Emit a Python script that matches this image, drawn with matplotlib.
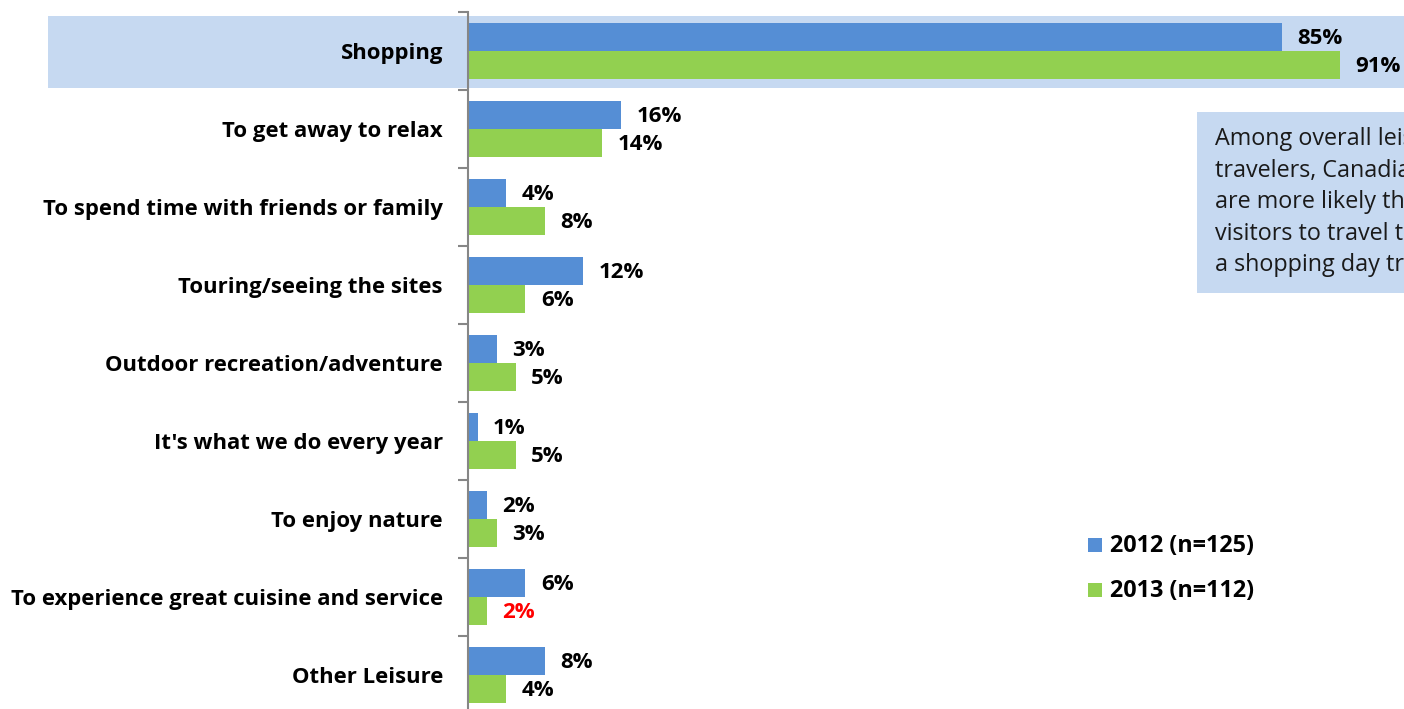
import matplotlib.pyplot as plt
from matplotlib.patches import Rectangle
from matplotlib.transforms import blended_transform_factory

categories = ["Shopping", "To get away to relax", "To spend time with friends or family",
              "Touring/seeing the sites", "Outdoor recreation/adventure",
              "It's what we do every year", "To enjoy nature",
              "To experience great cuisine and service", "Other Leisure"]
vals_2012 = [85, 16, 4, 12, 3, 1, 2, 6, 8]
vals_2013 = [91, 14, 8, 6, 5, 5, 3, 2, 4]
series_names = ["2012 (n=125)", "2013 (n=112)"]
note = "Among overall leisure\ntravelers, Canadians\nare more likely than\nvisitors to travel to\na shopping day trip"

BLUE = "#558ED5"
GREEN = "#92D050"
PALE = "#C6D9F1"
FONT = ["Open Sans", "DejaVu Sans"]

W, H = 1404, 709
fig = plt.figure(figsize=(W / 100, H / 100), dpi=100)
# axes: x from 468px to right edge, y from 12px (top) to 714px (slightly below bottom)
ax = fig.add_axes([468 / W, (H - 714) / H, (W - 468) / W, (714 - 12) / H])

ys = list(range(len(categories)))
h = 0.36
ax.barh([y - h / 2 for y in ys], vals_2012, height=h, color=BLUE, zorder=3, label=series_names[0])
ax.barh([y + h / 2 for y in ys], vals_2013, height=h, color=GREEN, zorder=3, label=series_names[1])

ax.set_xlim(0, (W - 468) / 9.58)
ax.set_ylim(len(categories) - 0.5, -0.5)

for y, v in zip(ys, vals_2012):
    ax.text(v + 1.6, y - h / 2 + 0.02, f"{v}%", va="center", ha="left", fontsize=16,
            fontweight="bold", family=FONT, zorder=4)
for i, (y, v) in enumerate(zip(ys, vals_2013)):
    col = "#FF0000" if i == 7 else "black"
    ax.text(v + 1.6, y + h / 2 + 0.02, f"{v}%", va="center", ha="left", fontsize=16,
            fontweight="bold", family=FONT, color=col, zorder=4)

# highlight band behind Shopping
tr = blended_transform_factory(fig.transFigure, ax.transData)
ax.add_patch(Rectangle((48 / W, -0.45), 1.0, 0.92, transform=tr, facecolor=PALE,
                       edgecolor="none", clip_on=False, zorder=0))

ax.set_yticks(ys)
ax.set_yticklabels(categories, fontsize=15.9, fontweight="bold", family=FONT)
ax.set_yticks([y - 0.5 for y in ys] + [len(ys) - 0.5], minor=True)
ax.tick_params(axis="y", which="major", length=0, pad=18)
ax.tick_params(axis="y", which="minor", length=7, color="#868686", width=1.5)
ax.set_xticks([])
for s in ["top", "right", "bottom"]:
    ax.spines[s].set_visible(False)
ax.spines["left"].set_color("#868686")
ax.spines["left"].set_linewidth(1.5)
ax.spines["left"].set_zorder(5)

# note box
fig.patches.append(Rectangle((1197 / W, 1 - 293 / H), 1.0, (293 - 112) / H,
                             transform=fig.transFigure, facecolor=PALE, edgecolor="none"))
fig.text(1215 / W, 1 - 127 / H, note, ha="left", va="top", fontsize=16.8,
         family=FONT, linespacing=1.42, color="#1a1a1a")

# legend
for i, (name, col) in enumerate(zip(series_names, [BLUE, GREEN])):
    yc = 545 + i * 45
    fig.patches.append(Rectangle((1088 / W, 1 - (yc + 7) / H), 14 / W, 14 / H,
                                 transform=fig.transFigure, facecolor=col, edgecolor="none"))
    fig.text(1110 / W, 1 - (yc + 1) / H, name, ha="left", va="center", fontsize=16.8,
             fontweight="bold", family=FONT)

fig.savefig("out.png", dpi=100)
